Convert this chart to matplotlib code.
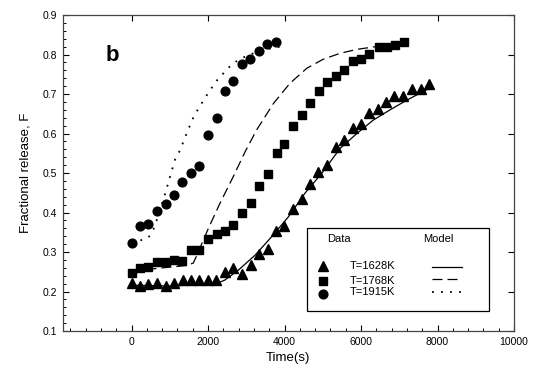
import numpy as np
import matplotlib
matplotlib.use("Agg")
import matplotlib.pyplot as plt
from matplotlib.ticker import MultipleLocator
from matplotlib.patches import Rectangle

plt.rcParams['font.family'] = ['Liberation Sans', 'DejaVu Sans']

# measured data, T=1628K (triangles)
t_1628 = [0, 220, 440, 660, 890, 1110, 1340, 1560, 1770, 1990, 2210, 2440,
          2660, 2900, 3120, 3340, 3560, 3780, 3990, 4210, 4450, 4670, 4880,
          5120, 5340, 5560, 5780, 6000, 6220, 6440, 6650, 6870, 7100, 7320,
          7560, 7780]
F_1628 = [0.222, 0.214, 0.218, 0.221, 0.214, 0.222, 0.229, 0.229, 0.229,
          0.229, 0.229, 0.249, 0.259, 0.244, 0.268, 0.296, 0.307, 0.354,
          0.366, 0.410, 0.433, 0.472, 0.503, 0.520, 0.567, 0.584, 0.615,
          0.623, 0.651, 0.661, 0.681, 0.694, 0.694, 0.713, 0.713, 0.725]

# T=1768K (squares)
t_1768 = [0, 220, 440, 670, 890, 1110, 1330, 1560, 1770, 1990, 2230, 2450,
          2660, 2900, 3120, 3340, 3560, 3790, 3990, 4230, 4450, 4670, 4900,
          5120, 5340, 5560, 5780, 6000, 6220, 6460, 6670, 6890, 7110]
F_1768 = [0.248, 0.259, 0.263, 0.275, 0.275, 0.281, 0.278, 0.305, 0.305,
          0.332, 0.345, 0.353, 0.368, 0.400, 0.425, 0.467, 0.498, 0.550,
          0.573, 0.620, 0.647, 0.678, 0.708, 0.730, 0.746, 0.761, 0.784,
          0.789, 0.801, 0.818, 0.818, 0.824, 0.831]

# T=1915K (circles)
t_1915 = [0, 220, 440, 670, 890, 1110, 1330, 1550, 1770, 2010, 2230, 2450,
          2660, 2890, 3100, 3330, 3550, 3770]
F_1915 = [0.322, 0.366, 0.370, 0.404, 0.421, 0.444, 0.478, 0.499, 0.518,
          0.596, 0.640, 0.708, 0.734, 0.777, 0.789, 0.809, 0.826, 0.832]

# model curves
tm_1628 = [0, 1000, 2000, 2270, 2440, 2790, 3230, 3665, 4100, 4535, 4970,
           5230, 5450, 5890, 6320, 6760, 7190, 7560, 7850]
Fm_1628 = [0.216, 0.214, 0.218, 0.222, 0.229, 0.254, 0.292, 0.339, 0.389,
           0.449, 0.499, 0.533, 0.562, 0.600, 0.634, 0.660, 0.684, 0.703,
           0.717]

tm_1768 = [0, 1440, 1615, 1690, 2010, 2310, 2660, 2970, 3270, 3710, 4140,
           4580, 5010, 5450, 5890, 6390]
Fm_1768 = [0.252, 0.266, 0.272, 0.288, 0.360, 0.423, 0.491, 0.554, 0.609,
           0.676, 0.727, 0.765, 0.788, 0.803, 0.813, 0.820]

tm_1915 = [0, 220, 440, 570, 660, 880, 1010, 1140, 1270, 1440, 1630, 1900,
           2200, 2620, 2860, 3360, 3990]
Fm_1915 = [0.325, 0.329, 0.336, 0.357, 0.381, 0.448, 0.492, 0.535, 0.558,
           0.600, 0.644, 0.687, 0.731, 0.775, 0.790, 0.810, 0.822]

labels = ['T=1628K', 'T=1768K', 'T=1915K']

fig = plt.figure(figsize=(5.38, 3.79), dpi=100)
ax = fig.add_axes([0.1165, 0.1266, 0.839, 0.8338])

ax.plot(tm_1628, Fm_1628, color='black', lw=0.9, ls='-')
ax.plot(tm_1768, Fm_1768, color='black', lw=0.9, ls=(0, (8, 4)))
ax.plot(tm_1915, Fm_1915, color='black', lw=1.3, ls=(0, (1, 4)))

ax.plot(t_1628, F_1628, '^', color='black', ms=6.5, ls='none')
ax.plot(t_1768, F_1768, 's', color='black', ms=5.8, ls='none')
ax.plot(t_1915, F_1915, 'o', color='black', ms=6.3, ls='none')

ax.set_xlim(-1800, 10000)
ax.set_ylim(0.1, 0.9)
ax.xaxis.set_major_locator(MultipleLocator(2000))
ax.xaxis.set_minor_locator(MultipleLocator(400))
ax.yaxis.set_major_locator(MultipleLocator(0.1))
ax.yaxis.set_minor_locator(MultipleLocator(0.02))
ax.set_xticks([0, 2000, 4000, 6000, 8000, 10000])
ax.set_yticklabels([f'{v:.1f}' for v in ax.get_yticks()])

ax.tick_params(which='both', direction='in', top=True, right=True,
               labelsize=7.5, pad=4)
ax.tick_params(which='major', length=4.5, width=0.8)
ax.tick_params(which='minor', length=2.5, width=0.7)
ax.tick_params(which='minor', top=False, right=False)
for s in ax.spines.values():
    s.set_linewidth(0.9)
    s.set_color('#444444')

ax.set_xlabel('Time(s)', fontsize=9.5, labelpad=4)
ax.set_ylabel('Fractional release, F', fontsize=9.5, labelpad=8)

ax.text(0.109, 0.873, 'b', transform=ax.transAxes, fontsize=16,
        fontweight='bold', ha='center', va='center')

# legend box drawn by hand
ax.add_patch(Rectangle((0.541, 0.063), 0.404, 0.263, transform=ax.transAxes,
                       fill=False, lw=0.9, ec='black'))
ax.text(0.612, 0.291, 'Data', transform=ax.transAxes, fontsize=8,
        ha='center', va='center')
ax.text(0.832, 0.291, 'Model', transform=ax.transAxes, fontsize=8,
        ha='center', va='center')
mk = ['^', 's', 'o']
ms = [6.5, 5.8, 6.3]
ym = [0.207, 0.159, 0.117]
yt = [0.207, 0.158, 0.122]
yl = [0.203, 0.164, 0.122]
styles = [dict(ls='-', lw=0.9), dict(ls=(0, (8, 4)), lw=0.9),
          dict(ls=(0, (1, 4)), lw=1.3)]
for i in range(3):
    ax.plot([0.5775], [ym[i]], mk[i], color='black', ms=ms[i],
            transform=ax.transAxes)
    ax.text(0.635, yt[i], labels[i], transform=ax.transAxes, fontsize=8,
            ha='left', va='center')
    ax.plot([0.818, 0.885], [yl[i], yl[i]], color='black',
            transform=ax.transAxes, **styles[i])

fig.savefig('out.png', dpi=100)
